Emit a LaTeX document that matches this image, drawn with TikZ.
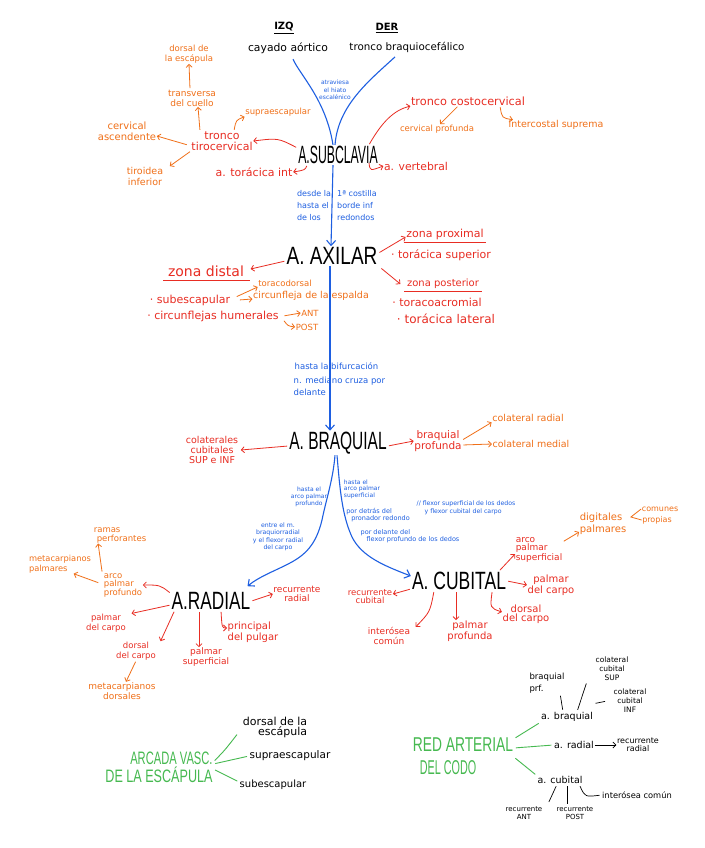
\documentclass[tikz,border=0pt]{standalone}
\usepackage{fontspec}
\setmainfont{DejaVu Sans}
\newfontfamily\lib{Liberation Sans}
\usetikzlibrary{arrows.meta}
\definecolor{cred}{RGB}{232,45,35}
\definecolor{corg}{RGB}{240,112,25}
\definecolor{cblu}{RGB}{30,95,225}
\definecolor{cgrn}{RGB}{70,185,80}
\newcommand\fsz[2]{\fontsize{#1}{#2}\selectfont}
\newcommand\mlab[2]{\scalebox{#1}[1]{#2}}
\begin{document}
\begin{tikzpicture}[x=1pt,y=-1pt,
  lbl/.style={inner sep=0.5pt, align=center},
  tred/.style={lbl, text=cred},
  torg/.style={lbl, text=corg},
  tblu/.style={lbl, text=cblu},
  tblk/.style={lbl, text=black},
  tgrn/.style={lbl, text=cgrn, font=\lib\fsz{18}{18}},
  mainn/.style={inner sep=1pt, font=\lib\fsz{25}{25}},
  tip/.style={-{Straight Barb[length=3pt,width=6pt]}},
  arR/.style={draw=cred, line width=0.8pt, tip, shorten <=1pt},
  arO/.style={draw=corg, line width=0.8pt, tip, shorten <=1pt},
  arB/.style={draw=cblu, line width=1.1pt, -{Straight Barb[length=5pt,width=9pt]}},
  lnB/.style={draw=cblu, line width=1.1pt},
  lnG/.style={draw=cgrn, line width=0.9pt, shorten <=2pt, shorten >=2pt},
  lnK/.style={draw=black, line width=0.7pt, shorten <=2pt, shorten >=2pt},
  arK/.style={draw=black, line width=0.7pt, tip},
  ulR/.style={draw=cred, line width=0.8pt}
]
\useasboundingbox[fill=white] (0,0) rectangle (704,848);

% ---------- top
\node[tblk,font=\bfseries\fsz{10}{12}] (izq) at (284,28) {\underline{IZQ}};
\node[tblk,font=\bfseries\fsz{10}{12}] (der) at (387,28) {\underline{DER}};
\node[tblk,font=\fsz{10.8}{12}] (cay) at (288,48) {cayado aórtico};
\node[tblk,font=\fsz{10.3}{12}] (tbc) at (407,47) {tronco braquiocefálico};
\node[tblu,font=\fsz{6}{7.5}] (hiato) at (335,90) {atraviesa\\el hiato\\escalénico};

% ---------- main nodes
\node[mainn] (sub) at (338,155) {\mlab{0.49}{A.SUBCLAVIA}};
\node[mainn] (axi) at (332,256) {\mlab{0.76}{A. AXILAR}};
\node[mainn] (braq) at (338,443) {\mlab{0.62}{A. BRAQUIAL}};
\node[mainn] (rad) at (211,601) {\mlab{0.69}{A.RADIAL}};
\node[mainn] (cub) at (459,581) {\mlab{0.70}{A. CUBITAL}};

% ---------- subclavia
\node[tred,font=\fsz{11}{11}] (tiro) at (222,141) {tronco\\tirocervical};
\node[tred,font=\fsz{11}{12}] (tint) at (254,172) {a. torácica int};
\node[tred,font=\fsz{11.3}{12}] (costo) at (468,101) {tronco costocervical};
\node[tred,font=\fsz{10.8}{12}] (vert) at (416,166) {a. vertebral};
\node[torg,font=\fsz{8.5}{10}] (cprof) at (437,129) {cervical profunda};
\node[torg,font=\fsz{9.5}{10}] (icsup) at (556,125) {intercostal suprema};
\node[torg,font=\fsz{8.5}{10}] (supr) at (278,112) {supraescapular};
\node[torg,font=\fsz{9}{10}] (transv) at (192,98) {transversa\\del cuello};
\node[torg,font=\fsz{8.5}{10}] (dorsesc) at (189,54) {dorsal de\\la escápula};
\node[torg,font=\fsz{10}{11}] (cervasc) at (127,131) {cervical\\ascendente};
\node[torg,font=\fsz{9.5}{11}] (tiroid) at (145,176) {tiroidea\\inferior};

\draw[lnB] ([xshift=5pt,yshift=-5pt]cay.south) .. controls (300,75) and (326,100) .. ([xshift=-5pt]sub.north);
\draw[lnB] ([xshift=-12pt,yshift=-4pt]tbc.south) .. controls (370,80) and (338,105) .. ([xshift=-3pt]sub.north);
\draw[arB] ([xshift=-5pt]sub.south) -- ([xshift=-1pt]axi.north);

\draw[arR] (sub.170) .. controls (278,138) .. (tiro.east);
\draw[arR] ([xshift=10pt]sub.south west) .. controls (305,170) .. (tint.east);
\draw[arR] ([xshift=-10pt]sub.north east) .. controls (382,122) and (394,110) .. (costo.south west);
\draw[arR] ([xshift=-10pt,yshift=3pt]sub.south east) .. controls (370,171) .. (vert.west);
\draw[arO] ([xshift=-10pt]costo.south) -- ([xshift=3pt]cprof.north);
\draw[arO] ([xshift=32pt]costo.south) .. controls (502,118) .. ([xshift=5pt]icsup.north west);
\draw[arO] ([xshift=12pt]tiro.north) .. controls (236,120) .. (supr.south west);
\draw[arO] ([xshift=-22pt]tiro.north) -- ([xshift=6pt]transv.south);
\draw[arO] ([xshift=-2pt]transv.north) -- (dorsesc.south);
\draw[arO] ([xshift=-3pt,yshift=-4pt]tiro.west) -- ([yshift=-5pt]cervasc.east);
\draw[arO] (tiro.south west) -- ([xshift=6pt]tiroid.north east);

% ---------- blue between subclavia and axilar
\node[tblu,font=\fsz{8}{12},align=left] (desde) at (314,206) {desde la\\hasta el\\de los};
\node[tblu,font=\fsz{8}{12},align=left] (costilla) at (357,206) {1ª costilla\\borde inf\\redondos};

% ---------- axilar
\node[tred,font=\fsz{11}{12}] (zprox) at (445,234) {zona proximal};
\node[tred,font=\fsz{11}{12}] (tsup) at (441,255) {· torácica superior};
\node[tred,font=\fsz{10}{12}] (zpost) at (443,284) {zona posterior};
\node[tred,font=\fsz{11}{12}] (toracoac) at (437,302) {· toracoacromial};
\node[tred,font=\fsz{12}{12}] (tlat) at (446,319) {· torácica lateral};
\node[tred,font=\fsz{14}{14}] (zdist) at (206,271) {zona distal};
\node[tred,font=\fsz{11}{12}] (subesc) at (190,300) {· subescapular};
\node[torg,font=\fsz{8.5}{10}] (tdors) at (285,283) {toracodorsal};
\node[torg,font=\fsz{9.5}{10}] (circesp) at (311,296) {circunfleja de la espalda};
\node[tred,font=\fsz{11}{12}] (circhum) at (213,316) {· circunflejas humerales};
\node[torg,font=\fsz{8.5}{10}] (ant) at (310,313) {ANT};
\node[torg,font=\fsz{8.5}{10}] (post) at (307,327) {POST};

\draw[ulR] ([xshift=-2pt,yshift=-2pt]zprox.south west) -- ([xshift=2pt,yshift=-2pt]zprox.south east);
\draw[ulR] ([xshift=-2pt,yshift=-2pt]zpost.south west) -- ([xshift=2pt,yshift=-2pt]zpost.south east);
\draw[ulR] ([xshift=-4pt,yshift=-3pt]zdist.south west) -- ([xshift=5pt,yshift=-3pt]zdist.south east);
\draw[arR] ([yshift=3pt]axi.east) -- ([yshift=-3pt]zprox.west);
\draw[arR] ([xshift=2pt,yshift=-2pt]axi.south east) -- ([xshift=-6pt]zpost.west);
\draw[arR] ([yshift=-5pt]axi.west) -- ([xshift=6pt,yshift=2pt]zdist.east);
\draw[arO] ([xshift=5pt,yshift=3pt]subesc.east) -- (tdors.south west);
\draw[arO] ([xshift=8pt]subesc.east) -- ([yshift=-3pt]circesp.west);
\draw[arO] ([xshift=4pt]circhum.east) -- (ant.west);
\draw[arO] ([xshift=4pt,yshift=-4pt]circhum.east) .. controls (288,326) .. (post.west);

% ---------- blue axilar -> braquial
\node[tblu,font=\fsz{8.5}{10},anchor=west] (hbif) at (294,366) {hasta la bifurcación};
\node[tblu,font=\fsz{8.5}{12},align=left,anchor=north west] (nmed) at (293,376) {n. mediano cruza por\\delante};
\draw[arB] ([xshift=-2pt]axi.south) -- ([xshift=-8pt]braq.north);

% ---------- braquial
\node[tred,font=\fsz{9.5}{10}] (colcub) at (212,450) {colaterales\\cubitales\\SUP e INF};
\node[tred,font=\fsz{10.5}{10}] (bprof) at (438,441) {braquial\\profunda};
\node[torg,font=\fsz{9.5}{10}] (colrad) at (528,418) {colateral radial};
\node[torg,font=\fsz{9.5}{10}] (colmed) at (531,444) {colateral medial};
\draw[arR] ([yshift=-3pt]braq.west) -- ([xshift=2pt]colcub.east);
\draw[arR] ([yshift=-3pt]braq.east) -- (bprof.west);
\draw[arO] ([yshift=1pt]bprof.east) -- (colrad.south west);
\draw[arO] ([yshift=-4pt]bprof.east) -- (colmed.west);

% ---------- blue braquial -> radial / cubital
\node[tblu,font=\fsz{6}{7}] (happ) at (309,497) {hasta el\\arco palmar\\profundo};
\node[tblu,font=\fsz{6.2}{7.5}] (entre) at (278,537) {entre el m.\\braquiorradial\\y el flexor radial\\del carpo};
\node[tblu,font=\fsz{6}{6.5},align=left] (haps) at (362,489) {hasta el\\arco palmar\\superficial};
\node[tblu,font=\fsz{6.5}{7},align=left] (pordet) at (378,515) {por detrás del\\\hspace{5pt}pronador redondo};
\node[tblu,font=\fsz{6.2}{8},align=left] (flex) at (466,508) {// flexor superficial de los dedos\\\hspace{8pt}y flexor cubital del carpo};
\node[tblu,font=\fsz{6.5}{7.5},align=left] (pordel) at (410,536) {por delante del\\\hspace{6pt}flexor profundo de los dedos};

\draw[arB] ([xshift=-3pt]braq.south) .. controls (333,480) and (326,500) .. (322,520) .. controls (316,545) and (305,555) .. (290,563) .. controls (275,571) and (260,576) .. ([xshift=-4pt,yshift=5pt]rad.north east);
\draw[arB] ([xshift=-1pt]braq.south) .. controls (340,490) and (342,515) .. (352,537) .. controls (362,557) and (385,566) .. ([yshift=5pt]cub.west);

% ---------- radial
\node[tred,font=\fsz{9}{9}] (recrad) at (297,594) {recurrente\\radial};
\node[torg,font=\fsz{8.5}{8.5},align=left] (approf) at (123,585) {arco\\palmar\\profundo};
\node[torg,font=\fsz{8.3}{10},align=left] (metpal) at (60,564) {metacarpianos\\palmares};
\node[torg,font=\fsz{8.5}{9},align=left] (ramas) at (120,535) {ramas\\\hspace{3pt}perforantes};
\node[tred,font=\fsz{8.5}{9.5}] (pcarpo) at (106,623) {palmar\\del carpo};
\node[tred,font=\fsz{8.5}{10}] (dcarpo) at (136,651) {dorsal\\del carpo};
\node[torg,font=\fsz{9}{10}] (metdor) at (122,691) {metacarpianos\\dorsales};
\node[tred,font=\fsz{9}{9.5}] (psup) at (206,657) {palmar\\superficial};
\node[tred,font=\fsz{10}{11},align=left] (princ) at (253,632) {principal\\del pulgar};

\draw[arR] (rad.east) -- (recrad.west);
\draw[arR] ([yshift=-2pt]rad.north west) .. controls (160,585) .. (approf.east);
\draw[arO] ([xshift=-4pt,yshift=2pt]approf.west) -- ([xshift=-18pt]metpal.south east);
\draw[arO] ([xshift=-1pt]approf.north west) -- ([xshift=5pt]ramas.south west);
\draw[arR] ([yshift=-4pt]rad.west) -- ([xshift=5pt]pcarpo.north east);
\draw[arR] ([xshift=4pt]rad.south west) -- ([xshift=4pt]dcarpo.north east);
\draw[arO] (dcarpo.south) -- ([xshift=4pt]metdor.north);
\draw[arR] ([xshift=-12pt]rad.south) -- ([xshift=-7pt]psup.north);
\draw[arR] ([xshift=10pt]rad.south) .. controls (222,628) .. ([yshift=4pt]princ.west);

% ---------- cubital
\node[tred,font=\fsz{8.5}{8}] (reccub) at (370,597) {recurrente\\cubital};
\node[tred,font=\fsz{9}{8.5},align=left] (aps) at (539,550) {arco\\palmar\\superficial};
\node[torg,font=\fsz{10}{12},align=left] (digit) at (603,524) {digitales\\palmares};
\node[torg,font=\fsz{8}{10}] (comun) at (660,509) {comunes};
\node[torg,font=\fsz{8}{10}] (propias) at (657,520) {propias};
\node[tred,font=\fsz{10}{9}] (pcarpo2) at (551,585) {palmar\\del carpo};
\node[tred,font=\fsz{10}{9}] (dcarpo2) at (526,614) {dorsal\\del carpo};
\node[tred,font=\fsz{10}{9.5}] (pprof) at (470,631) {palmar\\profunda};
\node[tred,font=\fsz{9}{9.5}] (icom) at (389,636) {interósea\\común};

\draw[arR] ([yshift=-8pt]cub.west) -- ([yshift=3pt]reccub.east);
\draw[arR] ([xshift=-8pt]cub.north east) -- ([yshift=-4pt]aps.west);
\draw[arO] ([yshift=-5pt]aps.north east) -- ([yshift=-8pt]digit.west);
\draw[draw=corg, line width=0.8pt] (comun.west) -- ([xshift=4pt,yshift=7pt]digit.east) -- (propias.west);
\draw[arR] (cub.east) -- (pcarpo2.west);
\draw[arR] ([xshift=-15pt]cub.south east) .. controls (490,608) .. ([yshift=2pt]dcarpo2.west);
\draw[arR] ([xshift=-3pt]cub.south) -- ([xshift=-14pt]pprof.north);
\draw[arR] ([xshift=-25pt]cub.south) .. controls (430,612) .. ([xshift=5pt]icom.north east);

% ---------- arcada vascular de la escapula
\node[tgrn,align=right] (arcada) at (159,767) {\mlab{0.62}{ARCADA VASC.}\\\mlab{0.7}{DE LA ESCÁPULA}};
\node[tblk,font=\fsz{11}{10},align=right] (dlesc) at (275,727) {dorsal de la\\escápula};
\node[tblk,font=\fsz{10.5}{12}] (supr2) at (290,756) {supraescapular};
\node[tblk,font=\fsz{10}{12}] (subesc2) at (273,785) {subescapular};
\draw[lnG] ([yshift=5pt]arcada.east) .. controls (225,750) .. ([xshift=-4pt,yshift=5pt]dlesc.south west);
\draw[lnG] ([yshift=3pt]arcada.east) -- (supr2.west);
\draw[lnG] ([yshift=-2pt]arcada.east) -- ([yshift=3pt]subesc2.west);

% ---------- red arterial del codo
\node[tgrn,align=left,font=\lib\fsz{20}{23}] (redart) at (463,756) {\mlab{0.69}{RED ARTERIAL}\\\hspace{7pt}\mlab{0.54}{DEL CODO}};
\node[tblk,font=\fsz{9.5}{11}] (abraq) at (567,717) {a. braquial};
\node[tblk,font=\fsz{9.5}{11}] (arad) at (574,745) {a. radial};
\node[tblk,font=\fsz{8}{8}] (rrad) at (638,745) {recurrente\\radial};
\node[tblk,font=\fsz{9.5}{11}] (acub) at (560,780) {a. cubital};
\node[tblk,font=\fsz{8.5}{12},align=left] (bprf) at (547,683) {braquial\\prf.};
\node[tblk,font=\fsz{7.5}{9}] (ccsup) at (612,669) {colateral\\cubital\\SUP};
\node[tblk,font=\fsz{7.5}{9}] (ccinf) at (630,701) {colateral\\cubital\\INF};
\node[tblk,font=\fsz{8.3}{10}] (icom2) at (637,795) {interósea común};
\node[tblk,font=\fsz{7}{8}] (rant) at (524,813) {recurrente\\ANT};
\node[tblk,font=\fsz{7}{8}] (rpost) at (575,813) {recurrente\\POST};

\draw[lnG] ([yshift=-2pt]redart.north east) -- (abraq.south west);
\draw[lnG] ([yshift=8pt]redart.east) -- (arad.west);
\draw[lnG] ([yshift=-1pt]redart.east) -- (acub.north west);
\draw[arK] (arad.east) -- (rrad.west);
\draw[lnK] ([xshift=-5pt]bprf.south east) -- ([xshift=-4pt]abraq.north);
\draw[lnK] ([xshift=-8pt]ccsup.south west) -- ([xshift=10pt]abraq.north);
\draw[lnK] ([yshift=8pt]abraq.north east) -- ([xshift=-6pt]ccinf.west);
\draw[lnK] ([xshift=-3pt]acub.south) -- ([xshift=5pt,yshift=2pt]rant.north east);
\draw[lnK] ([xshift=7pt]acub.south) -- ([xshift=-8pt]rpost.north);
\draw[lnK] ([xshift=-4pt]acub.south east) .. controls (585,797) .. (icom2.west);
\end{tikzpicture}
\end{document}
